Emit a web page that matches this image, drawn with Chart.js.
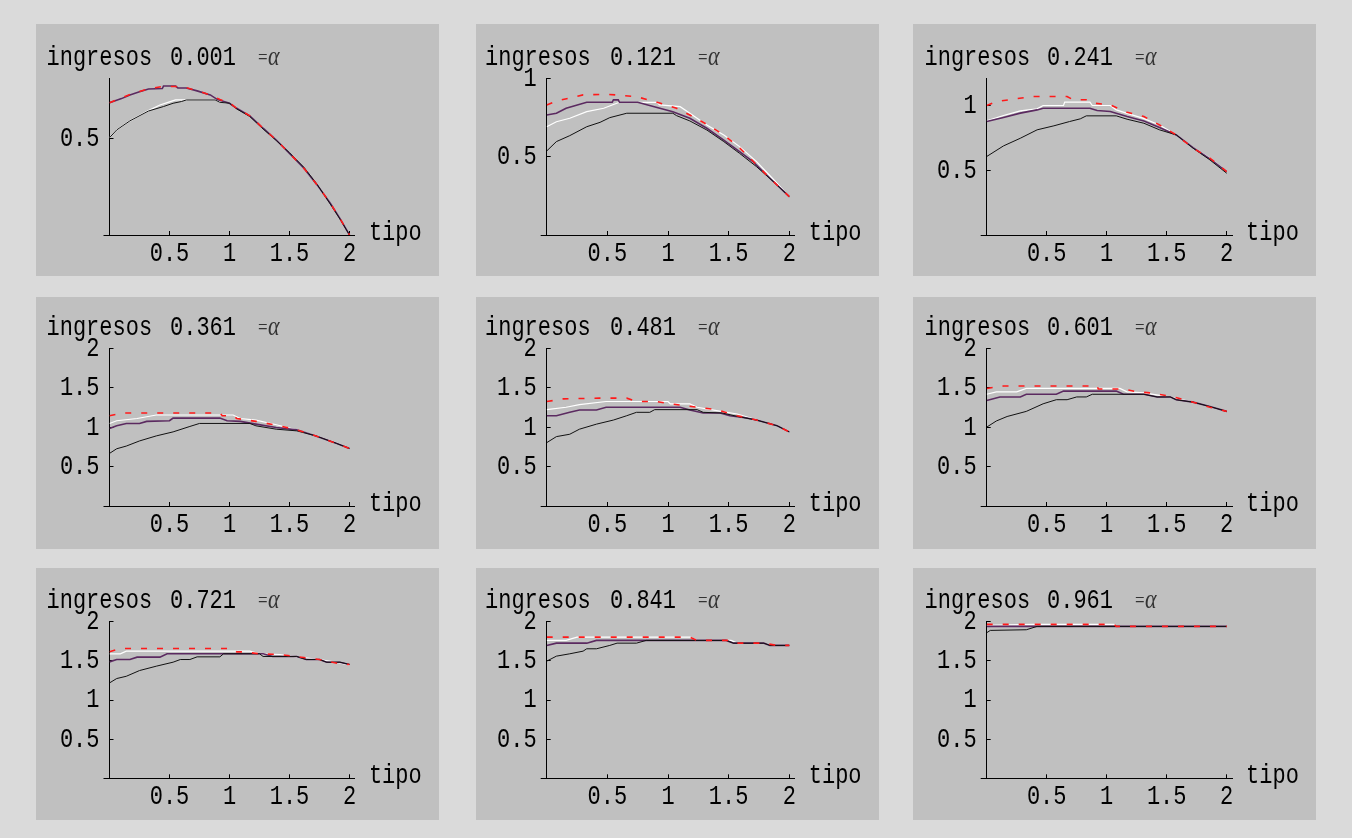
<!DOCTYPE html>
<html><head><meta charset="utf-8">
<script src="https://cdn.jsdelivr.net/npm/chart.js@4.4.0/dist/chart.umd.min.js"></script>
<style>
html,body{margin:0;padding:0;background:#dadada;width:1352px;height:838px;overflow:hidden;}
.panel{position:absolute;background:#c0c0c0;}
canvas{display:block;}
</style></head><body>
<script>
// ---------- data ----------
const ALPHAS = ['0.001','0.121','0.241','0.361','0.481','0.601','0.721','0.841','0.961'];
const X_TICKS = [0.5, 1, 1.5, 2];
const Y_TICKS_A = [0.5];
const Y_TICKS_B = [0.5, 1];
const Y_TICKS_C = [0.5, 1, 1.5, 2];
const Y_MAX = [0.81, 1.0, 1.21, 2, 2, 2, 2, 2, 2];
const X_TITLE = 'tipo';
const Y_TITLE = 'ingresos';

const a001_red = [[0,0.684],[0.17,0.726],[0.33,0.757],[0.45,0.768],[0.55,0.768],[0.65,0.76],[0.75,0.742],[0.85,0.722],[0.92,0.70],[1.0,0.683],[1.06,0.655],[1.17,0.616],[1.28,0.552],[1.39,0.491],[1.5,0.422],[1.62,0.345],[1.73,0.259],[1.84,0.164],[1.92,0.086],[2,0]];
const a001_purple = [[0,0.684],[0.1,0.705],[0.17,0.724],[0.25,0.74],[0.325,0.755],[0.44,0.757],[0.45,0.77],[0.55,0.77],[0.57,0.76],[0.64,0.76],[0.73,0.745],[0.84,0.724],[0.9,0.70],[1.0,0.681],[1.06,0.655],[1.17,0.616],[1.28,0.552],[1.39,0.491],[1.5,0.422],[1.62,0.345],[1.73,0.259],[1.84,0.164],[1.92,0.086],[2,0]];
const a001_white = [[0,0.503],[0.06,0.543],[0.17,0.59],[0.325,0.643],[0.42,0.672],[0.5,0.688],[0.55,0.698],[0.88,0.698],[0.92,0.688],[1.0,0.681],[1.06,0.655],[1.17,0.616],[1.28,0.552],[1.39,0.491],[1.5,0.422],[1.62,0.345],[1.73,0.259],[1.84,0.164],[1.92,0.086],[2,0]];
const a001_black = [[0,0.503],[0.06,0.543],[0.17,0.59],[0.325,0.641],[0.45,0.664],[0.53,0.681],[0.6,0.69],[0.64,0.698],[0.88,0.698],[0.92,0.686],[1.0,0.681],[1.06,0.652],[1.17,0.612],[1.28,0.548],[1.39,0.488],[1.5,0.425],[1.62,0.35],[1.73,0.262],[1.84,0.16],[1.92,0.083],[2,0]];

const a121_red = [[0,0.83],[0.08,0.855],[0.3,0.894],[0.5,0.898],[0.74,0.883],[0.91,0.847],[1.07,0.809],[1.18,0.766],[1.33,0.702],[1.46,0.638],[1.58,0.564],[1.7,0.472],[1.84,0.362],[2,0.245]];
const a121_purple = [[0,0.766],[0.08,0.777],[0.16,0.809],[0.33,0.847],[0.54,0.847],[0.55,0.862],[0.59,0.862],[0.6,0.847],[0.75,0.847],[0.91,0.813],[1.04,0.787],[1.18,0.745],[1.32,0.681],[1.46,0.606],[1.59,0.532],[1.7,0.468],[1.84,0.362],[2,0.245]];
const a121_white = [[0,0.691],[0.08,0.723],[0.19,0.745],[0.33,0.787],[0.47,0.809],[0.54,0.83],[0.6,0.847],[0.91,0.847],[0.93,0.83],[1.1,0.819],[1.18,0.777],[1.32,0.702],[1.46,0.638],[1.59,0.564],[1.73,0.468],[1.86,0.362],[2,0.245]];
const a121_black = [[0,0.536],[0.08,0.596],[0.19,0.634],[0.33,0.691],[0.44,0.719],[0.52,0.749],[0.66,0.777],[1.04,0.777],[1.07,0.762],[1.18,0.728],[1.32,0.67],[1.46,0.596],[1.59,0.521],[1.73,0.436],[1.87,0.34],[2,0.245]];

const a241_red = [[0,1.0],[0.08,1.03],[0.22,1.049],[0.39,1.07],[0.67,1.07],[0.72,1.044],[0.83,1.044],[0.89,1.018],[1.03,1.005],[1.17,0.948],[1.31,0.915],[1.44,0.85],[1.58,0.773],[1.72,0.67],[1.86,0.593],[2,0.49]];
const a241_purple = [[0,0.876],[0.14,0.907],[0.28,0.941],[0.42,0.966],[0.47,0.979],[0.86,0.979],[0.92,0.961],[1.03,0.954],[1.17,0.915],[1.31,0.881],[1.44,0.83],[1.58,0.773],[1.72,0.675],[1.86,0.588],[2,0.49]];
const a241_white = [[0,0.881],[0.14,0.923],[0.28,0.959],[0.42,0.974],[0.47,1.0],[0.64,1.0],[0.65,1.026],[0.86,1.026],[0.88,1.0],[1.03,1.0],[1.08,0.966],[1.19,0.933],[1.3,0.902],[1.44,0.85],[1.58,0.773],[1.72,0.675],[1.86,0.593],[2,0.49]];
const a241_black = [[0,0.606],[0.14,0.688],[0.28,0.747],[0.42,0.812],[0.56,0.843],[0.69,0.876],[0.78,0.897],[0.83,0.92],[1.08,0.92],[1.17,0.894],[1.31,0.863],[1.44,0.812],[1.58,0.773],[1.72,0.67],[1.86,0.58],[2,0.477]];

const a361_red = [[0,1.145],[0.12,1.18],[0.92,1.18],[0.94,1.145],[1.03,1.145],[1.06,1.11],[1.22,1.073],[1.39,1.026],[1.56,0.966],[1.72,0.889],[1.89,0.795],[2,0.73]];
const a361_purple = [[0,0.983],[0.06,1.017],[0.14,1.047],[0.25,1.047],[0.31,1.073],[0.5,1.081],[0.53,1.115],[0.92,1.115],[0.98,1.081],[1.09,1.073],[1.22,1.038],[1.39,0.996],[1.56,0.966],[1.72,0.889],[1.89,0.795],[2,0.73]];
const a361_white = [[0,1.047],[0.06,1.081],[0.23,1.11],[0.39,1.154],[1.03,1.154],[1.09,1.11],[1.22,1.09],[1.39,1.03],[1.56,0.966],[1.72,0.889],[1.89,0.80],[2,0.73]];
const a361_black = [[0,0.667],[0.06,0.726],[0.14,0.76],[0.25,0.825],[0.39,0.889],[0.53,0.94],[0.67,1.009],[0.75,1.047],[1.17,1.047],[1.22,1.017],[1.39,0.974],[1.56,0.953],[1.72,0.889],[1.89,0.795],[2,0.73]];

const a481_red = [[0,1.325],[0.14,1.359],[0.44,1.368],[0.66,1.368],[0.74,1.325],[0.91,1.325],[1.02,1.295],[1.24,1.252],[1.4,1.222],[1.57,1.145],[1.73,1.09],[1.9,1.017],[2,0.94]];
const a481_purple = [[0,1.145],[0.08,1.145],[0.19,1.188],[0.27,1.218],[0.41,1.218],[0.49,1.252],[1.1,1.252],[1.18,1.218],[1.29,1.179],[1.43,1.179],[1.51,1.145],[1.62,1.124],[1.73,1.09],[1.9,1.017],[2,0.94]];
const a481_white = [[0,1.222],[0.16,1.252],[0.27,1.286],[0.49,1.325],[1.0,1.325],[1.02,1.295],[1.18,1.295],[1.24,1.252],[1.4,1.209],[1.57,1.167],[1.73,1.094],[1.9,1.017],[2,0.94]];
const a481_black = [[0,0.803],[0.08,0.88],[0.19,0.91],[0.27,0.974],[0.41,1.038],[0.55,1.09],[0.66,1.145],[0.74,1.188],[0.85,1.188],[0.89,1.222],[1.24,1.222],[1.29,1.188],[1.45,1.179],[1.57,1.137],[1.73,1.09],[1.9,1.017],[2,0.94]];

const a601_red = [[0,1.491],[0.14,1.522],[0.92,1.522],[0.93,1.483],[1.14,1.483],[1.25,1.448],[1.36,1.435],[1.56,1.383],[1.72,1.317],[1.86,1.252],[2,1.2]];
const a601_purple = [[0,1.339],[0.11,1.383],[0.28,1.383],[0.33,1.417],[0.58,1.417],[0.64,1.457],[1.08,1.457],[1.14,1.417],[1.31,1.417],[1.42,1.383],[1.53,1.383],[1.58,1.348],[1.72,1.317],[1.86,1.261],[2,1.2]];
const a601_white = [[0,1.417],[0.08,1.448],[0.25,1.448],[0.33,1.491],[1.11,1.491],[1.17,1.448],[1.31,1.435],[1.44,1.404],[1.58,1.361],[1.72,1.317],[1.86,1.261],[2,1.2]];
const a601_black = [[0,1.0],[0.08,1.078],[0.17,1.135],[0.33,1.2],[0.47,1.296],[0.58,1.348],[0.67,1.348],[0.75,1.383],[0.83,1.383],[0.88,1.417],[1.31,1.417],[1.42,1.383],[1.53,1.383],[1.58,1.348],[1.72,1.317],[1.86,1.261],[2,1.2]];

const a721_red = [[0,1.615],[0.09,1.658],[1.02,1.658],[1.06,1.615],[1.11,1.615],[1.25,1.59],[1.42,1.581],[1.58,1.551],[1.75,1.517],[1.92,1.462],[2,1.453]];
const a721_purple = [[0,1.487],[0.06,1.517],[0.17,1.517],[0.23,1.547],[0.42,1.547],[0.48,1.59],[1.28,1.59],[1.36,1.556],[1.56,1.556],[1.64,1.517],[1.75,1.517],[1.81,1.483],[1.92,1.483],[2,1.453]];
const a721_white = [[0,1.59],[0.09,1.59],[0.14,1.624],[1.17,1.624],[1.25,1.59],[1.42,1.581],[1.56,1.551],[1.75,1.517],[1.92,1.474],[2,1.444]];
const a721_black = [[0,1.218],[0.06,1.274],[0.14,1.303],[0.25,1.376],[0.39,1.432],[0.53,1.483],[0.59,1.517],[0.67,1.517],[0.73,1.551],[0.92,1.551],[0.95,1.59],[1.25,1.59],[1.28,1.556],[1.56,1.556],[1.64,1.517],[1.75,1.517],[1.81,1.483],[1.92,1.483],[2,1.453]];

const a841_red = [[0,1.803],[1.18,1.803],[1.24,1.761],[1.52,1.761],[1.57,1.726],[1.79,1.726],[1.9,1.697],[2,1.697]];
const a841_purple = [[0,1.697],[0.08,1.726],[0.33,1.726],[0.41,1.761],[1.48,1.761],[1.54,1.726],[1.79,1.726],[1.84,1.697],[2,1.697]];
const a841_white = [[0,1.761],[0.16,1.761],[0.25,1.803],[1.18,1.803],[1.24,1.761],[1.52,1.761],[1.57,1.726],[1.79,1.726],[1.84,1.697],[2,1.697]];
const a841_black = [[0,1.496],[0.08,1.56],[0.19,1.59],[0.3,1.624],[0.33,1.654],[0.41,1.654],[0.52,1.697],[0.58,1.726],[0.74,1.726],[0.82,1.761],[1.48,1.761],[1.54,1.726],[1.79,1.726],[1.84,1.697],[2,1.697]];

const a961_red = [[0,1.966],[1.06,1.966],[1.08,1.94],[2,1.94]];
const a961_purple = [[0,1.94],[2,1.94]];
const a961_white = [[0,1.953],[0.39,1.966],[1.06,1.966],[1.08,1.94],[2,1.94]];
const a961_black = [[0,1.859],[0.03,1.889],[0.33,1.897],[0.42,1.94],[2,1.94]];

const SERIES = [
  [a001_red, a001_purple, a001_white, a001_black],
  [a121_red, a121_purple, a121_white, a121_black],
  [a241_red, a241_purple, a241_white, a241_black],
  [a361_red, a361_purple, a361_white, a361_black],
  [a481_red, a481_purple, a481_white, a481_black],
  [a601_red, a601_purple, a601_white, a601_black],
  [a721_red, a721_purple, a721_white, a721_black],
  [a841_red, a841_purple, a841_white, a841_black],
  [a961_red, a961_purple, a961_white, a961_black]
];
const Y_TICKS = [Y_TICKS_A, Y_TICKS_B, Y_TICKS_B, Y_TICKS_C, Y_TICKS_C, Y_TICKS_C, Y_TICKS_C, Y_TICKS_C, Y_TICKS_C];

// ---------- layout ----------
const COL_LEFT = [36, 476, 913];
const ROW_TOP = [24, 297, 568];
const PW = 403, PH = 252;
const Y_AXIS_X = [73.5, 70.7, 73.7];
const X2_PX = [313.5, 313.3, 313.7];
const PLOT_TOP = [54.3, 51.3, 53.7];
const PLOT_BOTTOM = [211, 209, 210.3];
const TITLE_X = [10.5, 9, 11.5];
const TITLE_BASE = [41, 38, 40.3];
const X_MAX = 2.045;
const TEXT_STRETCH = 1.28;
const MONO = '"Liberation Mono", "Courier New", monospace';

const fmt = v => String(v);

// the reference's Courier text is taller than Liberation Mono: stretch text vertically
function tallText(ctx) {
  const origFill = ctx.fillText.bind(ctx);
  ctx.fillText = function (text, x, y) {
    this.save();
    this.translate(x, y);
    this.scale(1, TEXT_STRETCH);
    origFill(text, 0, 0);
    this.restore();
  };
}

const panelText = {
  id: 'panelText',
  afterDraw(chart, args, o) {
    const ctx = chart.ctx, ca = chart.chartArea;
    ctx.save();
    const yb = Math.round(ca.bottom - 0.5) + 0.5;
    ctx.strokeStyle = '#000'; ctx.lineWidth = 1;
    ctx.beginPath(); ctx.moveTo(ca.left - 6, yb); ctx.lineTo(ca.left, yb); ctx.stroke();
    ctx.fillStyle = '#000';
    ctx.textBaseline = 'alphabetic';
    ctx.textAlign = 'left';
    ctx.font = '22px ' + MONO;
    ctx.fillText(Y_TITLE, o.tx, o.ty);
    ctx.fillText(o.alpha, 134, o.ty);
    ctx.fillText(X_TITLE, ca.right + 14, ca.bottom + 5);
    ctx.fillStyle = '#333';
    ctx.font = '17px "Liberation Serif", serif';
    ctx.fillText('=', 222, o.ty - 1);
    ctx.font = 'italic 22px "Liberation Serif", serif';
    ctx.fillText('\u03B1', 232, o.ty);
    ctx.restore();
  }
};

const toXY = arr => arr.map(p => ({x: p[0], y: p[1]}));

for (let i = 0; i < 9; i++) {
  const r = Math.floor(i / 3), c = i % 3;
  const div = document.createElement('div');
  div.className = 'panel';
  div.style.left = COL_LEFT[c] + 'px';
  div.style.top = ROW_TOP[r] + 'px';
  div.style.width = PW + 'px';
  div.style.height = PH + 'px';
  const cv = document.createElement('canvas');
  cv.width = PW; cv.height = PH;
  cv.style.width = PW + 'px'; cv.style.height = PH + 'px';
  div.appendChild(cv);
  document.body.appendChild(div);
  tallText(cv.getContext('2d'));

  const unit = (X2_PX[c] - Y_AXIS_X[c]) / 2;
  const right = Y_AXIS_X[c] + unit * X_MAX;
  const [red, purple, white, black] = SERIES[i];
  const yt = Y_TICKS[i];

  new Chart(cv, {
    type: 'line',
    data: {
      datasets: [
        {data: toXY(red), borderColor: '#ff1a1a', borderWidth: 1.6, borderDash: [6, 10], pointRadius: 0, tension: 0, order: 0},
        {data: toXY(black), borderColor: '#111111', borderWidth: 1, pointRadius: 0, tension: 0, order: 1},
        {data: toXY(purple), borderColor: '#5b2a60', borderWidth: 1.6, pointRadius: 0, tension: 0, order: 2},
        {data: toXY(white), borderColor: '#ffffff', borderWidth: 1.2, pointRadius: 0, tension: 0, order: 3}
      ]
    },
    plugins: [panelText],
    options: {
      responsive: false, animation: false, devicePixelRatio: 1, events: [],
      layout: {autoPadding: false, padding: {left: 0, top: PLOT_TOP[r], right: PW - right, bottom: 0}},
      plugins: {
        legend: {display: false}, tooltip: {enabled: false}, title: {display: false},
        panelText: {tx: TITLE_X[c], ty: TITLE_BASE[r], alpha: ALPHAS[i]}
      },
      scales: {
        x: {
          type: 'linear', min: 0, max: X_MAX,
          afterFit(s) { s.height = PH - PLOT_BOTTOM[r]; },
          afterBuildTicks(s) { s.ticks = X_TICKS.map(v => ({value: v})); },
          grid: {drawOnChartArea: false, drawTicks: true, tickLength: -4, color: '#000', lineWidth: 1},
          border: {display: true, color: '#000', width: 1},
          ticks: {padding: 9, color: '#000', font: {family: MONO, size: 22}, callback: fmt, maxRotation: 0, autoSkip: false}
        },
        y: {
          type: 'linear', min: 0, max: Y_MAX[i],
          afterFit(s) { s.width = Y_AXIS_X[c]; },
          afterBuildTicks(s) { s.ticks = yt.map(v => ({value: v})); },
          grid: {drawOnChartArea: false, drawTicks: true, tickLength: -4, color: '#000', lineWidth: 1},
          border: {display: true, color: '#000', width: 1},
          ticks: {padding: 14, color: '#000', font: {family: MONO, size: 22}, callback: fmt, autoSkip: false}
        }
      }
    }
  });
}
</script>
</body></html>
